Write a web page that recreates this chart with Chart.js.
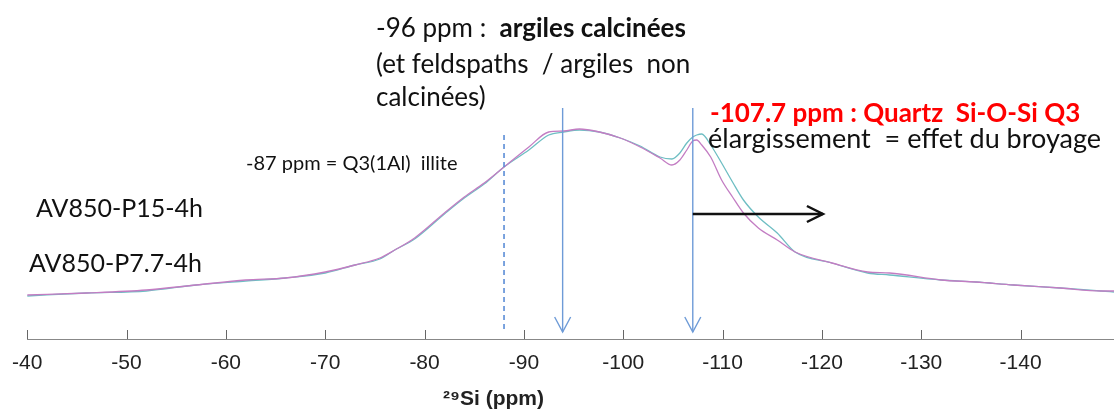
<!DOCTYPE html>
<html>
<head>
<meta charset="utf-8">
<script src="https://cdn.jsdelivr.net/npm/chart.js@4.4.1/dist/chart.umd.min.js"></script>
<style>
  body { margin: 0; background: #fff; }
  #wrap { position: relative; width: 1114px; height: 410px; }
  #nmr { position: absolute; left: 0; top: 0; }
  .note { position: absolute; font-family: Lato, "Noto Sans", sans-serif; color: #111; white-space: nowrap; line-height: 1; }
  .xtitle { position: absolute; font-family: "Liberation Sans", Arial, sans-serif; font-weight: bold; font-size: 21px; color: #222; white-space: nowrap; }
</style>
</head>
<body>
<div id="wrap">
  <canvas id="nmr" width="1114" height="410"></canvas>
  <div class="note" style="left:376px;top:14px;font-size:26px;">-96 ppm :&nbsp; <b>argiles calcinées</b></div>
  <div class="note" style="left:376px;top:50px;font-size:26px;">(et feldspaths&nbsp; / argiles&nbsp; non</div>
  <div class="note" style="left:376px;top:83px;font-size:26px;">calcinées)</div>
  <div class="note" style="left:246px;top:152px;font-size:20px;">-87 ppm = Q3(1Al)&nbsp; illite</div>
  <div class="note" style="left:36px;top:195px;font-size:25px;">AV850-P15-4h</div>
  <div class="note" style="left:29px;top:250px;font-size:25px;">AV850-P7.7-4h</div>
  <div class="note" style="left:710px;top:99px;font-size:26px;font-weight:bold;color:#f00;">-107.7 ppm : Quartz&nbsp; Si-O-Si Q3</div>
  <div class="note" style="left:708px;top:124px;font-size:27px;">élargissement&nbsp; = effet du broyage</div>
  <div class="xtitle" style="left:443px;top:386px;">²⁹Si (ppm)</div>
</div>
<script>
// chemical shift (ppm) and the two spectra (arbitrary intensity)
let shifts = [-40, -46, -52, -57, -62, -66, -70, -73, -75.5, -77, -79, -82, -84, -86, -88, -90.5, -92.5, -94, -95.6, -97.6, -99.7, -101.7, -103.7, -104.9, -105.7, -106.4, -107, -107.4, -107.9, -108.8, -109.9, -111, -112.1, -113.6, -115.5, -117.3, -121, -124.6, -126.8, -132, -135.5, -139.3, -144, -148.1, -149.4];
let pinkSpec = [44, 46, 49, 54, 59, 61, 67, 74, 81, 89, 101, 126, 142, 156, 172, 192, 207, 208, 210, 207, 201, 192, 181, 174, 179, 189, 198, 199, 194, 182, 159, 142, 126, 111, 99, 87, 76, 67, 66, 59, 57, 54, 51, 48, 48];
let cyanSpec = [43, 46, 48, 54, 58, 61, 66, 74, 80, 89, 100, 125, 141, 155, 172, 189, 204, 207, 209, 207, 201, 193, 182, 180, 186, 196, 202, 204, 205, 194, 176, 157, 139, 122, 106, 87, 76, 66, 64, 59, 57, 54, 51, 48, 47];
let xTicks = [-40, -50, -60, -70, -80, -90, -100, -110, -120, -130, -140];

// marker positions (ppm)
let dashedMark = -88;
let arrowMarks = [-93.9, -107];
let shiftArrow = [-107, -120.1];

let toPoints = (ys) => shifts.map((x, i) => ({x: x, y: ys[i]}));

// vertical markers, arrows and upward tick marks
let marks = {
  id: 'marks',
  afterDraw(chart) {
    let ctx = chart.ctx, xs = chart.scales.x, ys = chart.scales.y;
    let bottom = chart.chartArea.bottom;
    ctx.save();
    // ticks pointing up
    ctx.strokeStyle = '#666';
    ctx.lineWidth = 1;
    xTicks.forEach(v => {
      let px = Math.round(xs.getPixelForValue(v)) + 0.5;
      ctx.beginPath(); ctx.moveTo(px, bottom); ctx.lineTo(px, bottom - 9); ctx.stroke();
    });
    // dashed -87 line
    ctx.strokeStyle = 'rgb(91,141,214)';
    ctx.lineWidth = 1.6;
    ctx.setLineDash([5, 4]);
    let dx = xs.getPixelForValue(dashedMark);
    ctx.beginPath(); ctx.moveTo(dx, ys.getPixelForValue(204)); ctx.lineTo(dx, ys.getPixelForValue(8)); ctx.stroke();
    ctx.setLineDash([]);
    // solid blue arrows
    ctx.strokeStyle = 'rgb(110,155,215)';
    ctx.lineWidth = 1.4;
    arrowMarks.forEach(v => {
      let px = xs.getPixelForValue(v);
      let top = ys.getPixelForValue(231), tip = ys.getPixelForValue(7);
      ctx.beginPath(); ctx.moveTo(px, top); ctx.lineTo(px, tip); ctx.stroke();
      ctx.beginPath(); ctx.moveTo(px - 8, tip - 15); ctx.lineTo(px, tip); ctx.lineTo(px + 8, tip - 15); ctx.stroke();
    });
    // black shift arrow
    ctx.strokeStyle = '#111';
    ctx.lineWidth = 2.5;
    let ax0 = xs.getPixelForValue(shiftArrow[0]), ax1 = xs.getPixelForValue(shiftArrow[1]);
    let ay = ys.getPixelForValue(125);
    ctx.beginPath(); ctx.moveTo(ax0, ay); ctx.lineTo(ax1, ay); ctx.stroke();
    ctx.beginPath(); ctx.moveTo(ax1 - 16, ay - 8); ctx.lineTo(ax1, ay); ctx.lineTo(ax1 - 16, ay + 8); ctx.stroke();
    ctx.restore();
  }
};

let nmrCanvas = document.getElementById('nmr').getContext('2d');

let nmrChart = new Chart(nmrCanvas, {
  type: 'line',
  data: {
    datasets: [
      {label: 'AV850-P15-4h', data: toPoints(pinkSpec), borderColor: 'rgb(195,125,195)', borderWidth: 1.3, pointRadius: 0, cubicInterpolationMode: 'monotone'},
      {label: 'AV850-P7.7-4h', data: toPoints(cyanSpec), borderColor: 'rgb(110,190,195)', borderWidth: 1.3, pointRadius: 0, cubicInterpolationMode: 'monotone'}
    ]
  },
  options: {
    responsive: false,
    animation: false,
    layout: {padding: {left: 27, right: 0, top: 0, bottom: 0}},
    plugins: {legend: {display: false}, tooltip: {enabled: false}},
    scales: {
      x: {
        type: 'linear',
        reverse: true,
        min: -149.4,
        max: -40,
        afterFit: (s) => { s.height = 71; },
        afterBuildTicks: (s) => { s.ticks = xTicks.map(v => ({value: v})); },
        ticks: {
          includeBounds: false,
          autoSkip: false,
          maxRotation: 0,
          padding: 12,
          color: '#222',
          font: {family: '"Liberation Sans", Arial, sans-serif', size: 21}
        },
        grid: {display: false, drawTicks: false},
        border: {display: true, color: '#888', width: 1}
      },
      y: {
        display: false,
        min: 0,
        max: 339
      }
    }
  },
  plugins: [marks]
});
</script>
</body>
</html>
